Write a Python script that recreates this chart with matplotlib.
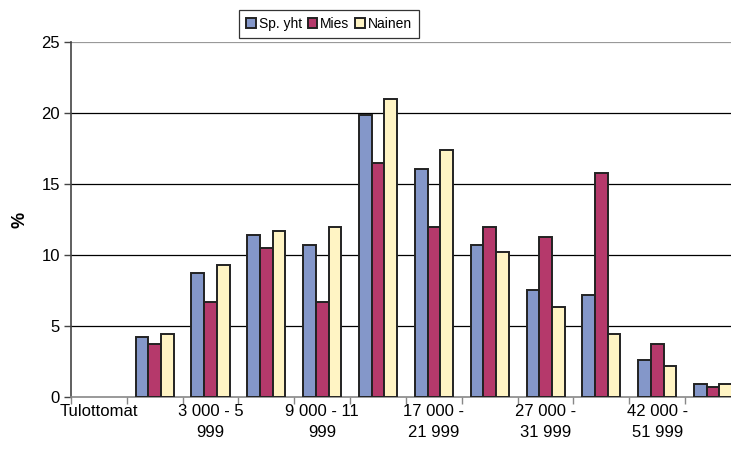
import numpy as np
import matplotlib
matplotlib.use("Agg")
import matplotlib.pyplot as plt

# Income classes (euros/year); only every other label is printed on the axis
categories = ["Tulottomat", "1 - 2 999", "3 000 - 5\n999", "6 000 - 8 999",
              "9 000 - 11\n999", "12 000 - 16 999", "17 000 -\n21 999",
              "22 000 - 26 999", "27 000 -\n31 999", "32 000 - 41 999",
              "42 000 -\n51 999", "52 000 -"]

sp_yht = [0, 4.2, 8.7, 11.4, 10.7, 19.9, 16.1, 10.7, 7.5, 7.2, 2.6, 0.9]
mies = [0, 3.7, 6.7, 10.5, 6.7, 16.5, 12.0, 12.0, 11.3, 15.8, 3.7, 0.7]
nainen = [0, 4.4, 9.3, 11.7, 12.0, 21.0, 17.4, 10.2, 6.3, 4.4, 2.2, 0.9]

series = [("Sp. yht", sp_yht, "#8497c9"),
          ("Mies", mies, "#b5396b"),
          ("Nainen", nainen, "#fff4c4")]

plt.rcParams["font.family"] = ["Liberation Sans", "DejaVu Sans"]

fig = plt.figure(figsize=(7.31, 4.49), dpi=100)
ax = fig.add_axes([0.097, 0.1165, 0.9166, 0.789])

x = np.arange(len(categories))
w = 0.227
for i, (name, vals, col) in enumerate(series):
    vals = np.array(vals, dtype=float)
    keep = vals > 0  # empty classes get no bar outline
    ax.bar(x[keep] + (i - 1) * w, vals[keep], width=w, color=col,
           edgecolor="#222222", linewidth=1.4, label=name, zorder=3)

ax.set_xlim(-0.5, len(categories) - 0.5)
ax.set_ylim(0, 25)
ax.set_yticks(range(0, 26, 5))
ax.tick_params(axis="y", labelsize=12, length=5, width=1, color="#444444",
               direction="out", pad=3)

# category boundaries as ticks, labels on every second category
ax.set_xticks(np.arange(-0.5, len(categories), 1.0))
ax.set_xticklabels([])
ax.tick_params(axis="x", which="major", length=5, width=1, color="#888888",
               direction="out")
ax.set_xticks(x[::2], minor=True)
ax.set_xticklabels(categories[::2], minor=True, fontsize=12, linespacing=1.5)
ax.tick_params(axis="x", which="minor", length=0, pad=5)

for y in range(5, 25, 5):
    ax.axhline(y, color="black", linewidth=0.9, zorder=1)
ax.axhline(25, color="#999999", linewidth=1.6, zorder=1)

for s in ["top", "right"]:
    ax.spines[s].set_visible(False)
ax.spines["left"].set_color("#444444")
ax.spines["left"].set_linewidth(1.2)
ax.spines["bottom"].set_color("#888888")
ax.spines["bottom"].set_linewidth(1.2)

ax.set_ylabel("%", fontsize=13, fontweight="bold", labelpad=9)

leg = fig.legend(loc="center", bbox_to_anchor=(329 / 731, 1 - 24 / 449),
                 ncol=3, fontsize=10, frameon=True, fancybox=False,
                 handlelength=0.7, handleheight=0.7, handletextpad=0.2,
                 columnspacing=0.4, borderpad=0.5, borderaxespad=0)
leg.get_frame().set_edgecolor("black")
leg.get_frame().set_linewidth(0.9)

fig.savefig("out.png", dpi=100)
